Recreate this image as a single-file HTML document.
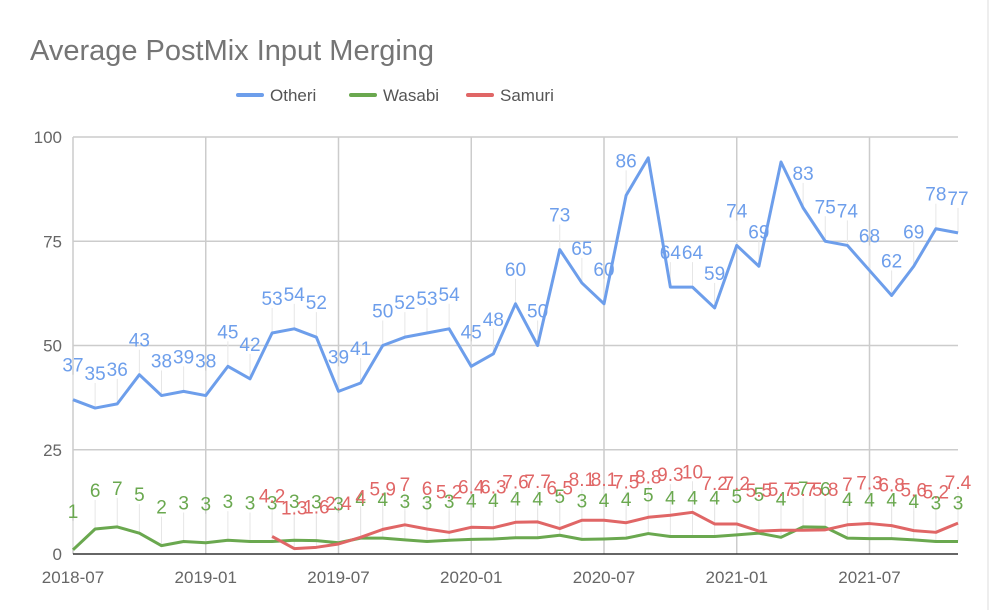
<!DOCTYPE html>
<html><head><meta charset="utf-8"><style>
body{margin:0;background:#fff;font-family:"Liberation Sans",Arial,sans-serif}
svg{display:block}
</style></head><body>
<svg id="chart" width="991" height="610">
<rect x="0" y="0" width="991" height="610" fill="#fff"/>
<line x1="988" y1="0" x2="988" y2="610" stroke="#ddd"/>
<text x="30" y="60" font-size="29" fill="#757575">Average PostMix Input Merging</text>
<g>
<g><line x1="238" y1="95" x2="262" y2="95" stroke="#6d9eeb" stroke-width="4" stroke-linecap="round"/><text x="270" y="101" font-size="17" fill="#555">Otheri</text></g>
<g><line x1="351" y1="95" x2="375" y2="95" stroke="#6aa84f" stroke-width="4" stroke-linecap="round"/><text x="383" y="101" font-size="17" fill="#555">Wasabi</text></g>
<g><line x1="468" y1="95" x2="492" y2="95" stroke="#e06666" stroke-width="4" stroke-linecap="round"/><text x="500" y="101" font-size="17" fill="#555">Samuri</text></g>
</g>
<g id="grid"></g><g id="leaders"></g><g id="lines"></g><g id="labels"></g><g id="axes"></g>
</svg>
<script>
const yTicks=[0,25,50,75,100];
const xTickLabels=["2018-07","2019-01","2019-07","2020-01","2020-07","2021-01","2021-07"];
const xTickIndex=[0,6,12,18,24,30,36];
const otheri=[37,35,36,43,38,39,38,45,42,53,54,52,39,41,50,52,53,54,45,48,60,50,73,65,60,86,95,64,64,59,74,69,94,83,75,74,68,62,69,78,77];
const otheriLabels=["37","35","36","43","38","39","38","45","42","53","54","52","39","41","50","52","53","54","45","48","60","50","73","65","60","86","","64","64","59","74","69","","83","75","74","68","62","69","78","77"];
const wasabi=[1,6,6.5,5,2,3,2.7,3.3,3,3,3.3,3.2,2.7,3.8,3.8,3.4,3,3.3,3.5,3.6,3.9,3.9,4.5,3.5,3.6,3.8,4.9,4.2,4.2,4.2,4.6,5,4,6.5,6.4,3.8,3.7,3.7,3.4,3,3];
const wasabiLabels=["1","6","7","5","2","3","3","3","3","3","3","3","3","4","4","3","3","3","4","4","4","4","5","3","4","4","5","4","4","4","5","5","4","7","6","4","4","4","4","3","3"];
const samuriStart=9;
const samuri=[4.2,1.3,1.6,2.4,4,5.9,7,6,5.2,6.4,6.3,7.6,7.7,6.1,8.1,8.1,7.5,8.8,9.3,10,7.2,7.2,5.5,5.7,5.7,5.8,7,7.3,6.8,5.6,5.2,7.4];
const samuriLabels=["4.2","1.3","1.6","2.4","4","5.9","7","6","5.2","6.4","6.3","7.6","7.7","6.5","8.1","8.1","7.5","8.8","9.3","10","7.2","7.2","5.5","5.7","5.7","5.8","7","7.3","6.8","5.6","5.2","7.4"];
const X0=73,X1=958,Y0=554,Y1=137,N=otheri.length;
const xs=i=>X0+(X1-X0)*i/(N-1);
const ys=v=>Y0-(Y0-Y1)*v/100;
const NS="http://www.w3.org/2000/svg";
function mk(tag,attrs,parent,txt){const e=document.createElementNS(NS,tag);for(const k in attrs)e.setAttribute(k,attrs[k]);if(txt!==undefined)e.textContent=txt;document.getElementById(parent).appendChild(e);return e;}
yTicks.forEach(t=>{
 if(t>0){const g=mk('line',{x1:X0,x2:X1,y1:ys(t),y2:ys(t),stroke:'#ccc','stroke-width':1.5},'grid');
 
 }
 const l=mk('text',{x:62,y:ys(t)+6,'font-size':17,fill:'#666','text-anchor':'end'},'axes',String(t));
 
 
});
xTickIndex.forEach((idx,k)=>{
 const g=mk('line',{x1:xs(idx),x2:xs(idx),y1:Y1,y2:Y0,stroke:'#ccc','stroke-width':1.5},'grid');
 
 
 const l=mk('text',{x:xs(idx),y:583,'font-size':17,fill:'#666','text-anchor':'middle'},'axes',xTickLabels[k]);
 
 
});
const ax=mk('line',{x1:X0,x2:X1,y1:Y0,y2:Y0,stroke:'#333','stroke-width':1.5},'axes');


function series(vals,start,color,name,labels,off){
 const pts=vals.map((v,i)=>xs(i+start)+','+ys(v)).join(' ');
 const p=mk('polyline',{points:pts,fill:'none',stroke:color,'stroke-width':3,'stroke-linejoin':'round'},'lines');
 
 
 vals.forEach((v,i)=>{
  if(!labels[i])return;
  const x=xs(i+start),y=ys(v);
  const ly=y-off;
  const ld=mk('line',{x1:x,x2:x,y1:ly+3,y2:y,stroke:'#e6e6e6','stroke-width':1},'leaders');
  
  
  const t=mk('text',{x:x,y:ly,'font-size':19,fill:color,'text-anchor':'middle'},'labels',labels[i]);
  
  
 });
}
series(otheri,0,'#6d9eeb','otheri',otheriLabels,28);
series(wasabi,0,'#6aa84f','wasabi',wasabiLabels,32);
series(samuri,samuriStart,'#e06666','samuri',samuriLabels,34);
</script>
</body></html>
